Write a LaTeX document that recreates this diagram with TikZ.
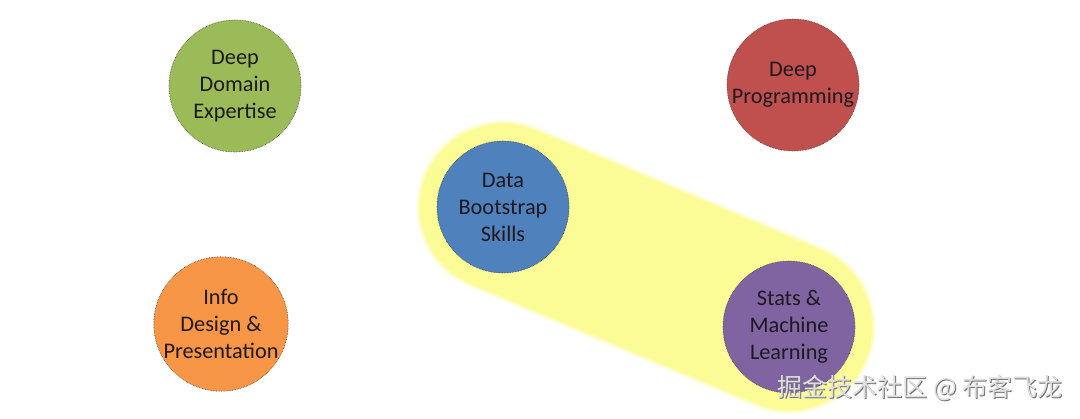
\documentclass[tikz,border=0pt]{standalone}
\usepackage{fontspec}
\setmainfont{Carlito}
\newfontfamily\cjkfont{Noto Sans CJK SC}
\definecolor{cgreen}{RGB}{155,187,89}
\definecolor{cred}{RGB}{192,80,77}
\definecolor{cblue}{RGB}{79,129,189}
\definecolor{cpurple}{RGB}{128,100,162}
\definecolor{corange}{RGB}{247,150,70}
\definecolor{cyell}{RGB}{252,252,150}
\definecolor{ctext}{RGB}{30,25,30}
\tikzset{
  skill/.style={circle, minimum size=132pt, inner sep=0pt, draw=black!75,
    densely dotted, line width=0.6pt, align=center, text=ctext,
    font=\fontsize{22.3}{27}\selectfont},
  glow/.style={line cap=round, draw=cyell},
  wmark/.style={anchor=east, font=\cjkfont\fontsize{25}{25}\selectfont}
}
\begin{document}
\begin{tikzpicture}[x=1pt,y=-1pt]
\useasboundingbox (0,0) rectangle (1080,419);
\fill[white] (0,0) rectangle (1080,419);
\coordinate (cb) at (503,207);
\coordinate (cp) at (789,327);
% yellow highlight capsule with soft edge
\draw[glow, line width=174pt, opacity=0.25] (cb) -- (cp);
\draw[glow, line width=170pt, opacity=0.5] (cb) -- (cp);
\draw[glow, line width=166pt] (cb) -- (cp);
\node[skill, fill=cgreen] (dom) at (235,86) {Deep\\Domain\\Expertise};
\node[skill, fill=cred] (prog) at (793,85) {Deep\\Programming};
\node[skill, fill=cblue] (boot) at (cb) {Data\\Bootstrap\\Skills};
\node[skill, fill=cpurple] (stats) at (cp) {Stats \&\\Machine\\Learning};
\node[skill, fill=corange] (info) at (221,324) {Info\\Design \&\\Presentation};
% watermark
\node[wmark, text=black!55] (wms) at (1066.8,388.8) {掘金技术社区 @ 布客飞龙};
\node[wmark, text=black!12] (wm) at (1066,388) {掘金技术社区 @ 布客飞龙};
\end{tikzpicture}
\end{document}
